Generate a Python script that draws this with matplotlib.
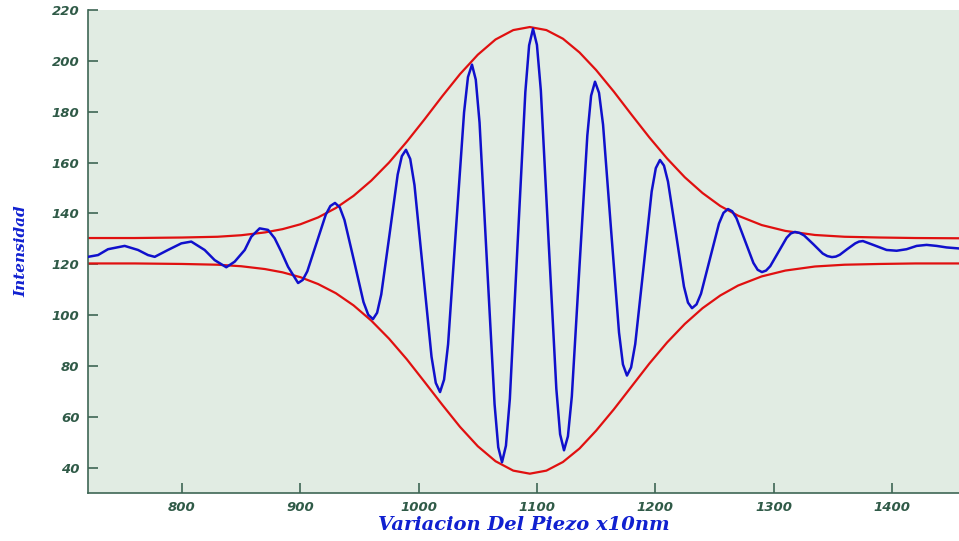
import numpy as np
import matplotlib
matplotlib.use('Agg')
import matplotlib.pyplot as plt

# interferogram
sig_x = [720.5, 729.0, 737.4, 751.5, 762.8, 771.2, 776.9, 788.1, 799.4, 807.8, 819.1, 827.6, 837.4, 844.5,
         853.0, 858.5, 865.6, 872.7, 878.3, 883.9, 889.6,
         898.1, 902.0, 905.9, 913.7, 921.5, 925.4, 929.3, 933.3, 937.3, 945.4, 953.4, 957.4,
         961.4, 964.9, 968.4, 975.4, 982.3, 985.8, 989.3, 992.9, 996.5, 1003.7, 1010.9, 1014.5,
         1018.1, 1021.5, 1024.9, 1031.6, 1038.4, 1041.7, 1045.1, 1048.3, 1051.5, 1057.8, 1064.2, 1067.3,
         1070.5, 1073.8, 1077.1, 1083.6, 1090.2, 1093.4, 1096.7, 1100.0, 1103.3, 1109.8, 1116.4, 1119.6,
         1122.9, 1126.2, 1129.5, 1136.0, 1142.6, 1145.8, 1149.1, 1152.5, 1155.9, 1162.6, 1169.4, 1172.7,
         1176.1, 1179.6, 1183.1, 1190.1, 1197.0, 1200.5, 1204.0, 1207.4, 1210.8, 1217.6, 1224.3, 1227.7,
         1231.1, 1234.9, 1238.7, 1246.3, 1253.9, 1257.7, 1261.5, 1265.1, 1268.7, 1275.9, 1283.0, 1286.6,
         1290.2, 1293.7, 1297.2, 1304.2, 1311.1, 1314.6, 1318.1, 1322.0, 1325.9, 1333.8, 1341.6, 1345.5,
         1349.4, 1352.7, 1356.0, 1362.5, 1369.1, 1372.3, 1375.6,
         1384.3, 1395.6, 1404.1, 1412.5, 1421.0, 1429.4, 1437.9, 1446.3, 1456.7]
sig_y = [122.9, 123.6, 125.9, 127.2, 125.6, 123.6, 122.9, 125.6, 128.2, 128.9, 125.6, 121.6, 118.8, 121.0,
         125.6, 130.8, 134.1, 133.5, 130.2, 124.9, 119.0,
         112.6, 113.8, 117.2, 128.4, 139.5, 142.9, 144.1, 142.4, 137.4, 121.3, 105.1, 100.1,
         98.4, 100.9, 108.1, 131.7, 155.3, 162.5, 165.0, 161.4, 151.1, 117.4, 83.6, 73.3,
         69.7, 74.6, 88.5, 134.1, 179.7, 193.6, 198.5, 192.6, 175.7, 120.3, 64.9, 48.0,
         42.1, 48.6, 67.0, 127.4, 187.7, 206.1, 212.6, 206.3, 188.4, 129.7, 71.0, 53.1,
         46.8, 52.3, 68.0, 119.3, 170.6, 186.3, 191.8, 187.4, 174.9, 134.0, 93.1, 80.6,
         76.2, 79.4, 88.6, 118.6, 148.6, 157.8, 161.0, 158.8, 152.5, 131.9, 111.2, 104.9,
         102.7, 104.2, 108.4, 122.2, 136.0, 140.2, 141.7, 140.8, 138.1, 129.3, 120.5, 117.8,
         116.9, 117.5, 119.2, 124.8, 130.4, 132.1, 132.7, 132.3, 131.3, 127.8, 124.2, 123.2,
         122.8, 123.0, 123.7, 126.0, 128.2, 128.9, 129.1,
         127.6, 125.6, 125.3, 125.9, 127.2, 127.6, 127.2, 126.6, 126.2]

# envelopes
env_x = [720, 760, 800, 830, 850, 870, 885, 900, 915, 930, 945, 960, 975, 990, 1005, 1020, 1035, 1050,
         1065, 1080, 1094, 1108, 1122, 1136, 1150, 1165, 1180, 1195, 1210, 1225, 1240, 1255, 1270,
         1290, 1310, 1335, 1360, 1390, 1420, 1457]
up_y = [130.3, 130.3, 130.5, 130.8, 131.4, 132.5, 133.8, 135.7, 138.4, 142.1, 146.9, 152.9, 160.0,
        168.2, 177.0, 186.1, 194.8, 202.4, 208.4, 212.1, 213.3, 212.1, 208.7, 203.3, 196.4, 187.9,
        178.8, 169.9, 161.6, 154.2, 148.0, 142.9, 139.1, 135.4, 133.1, 131.5, 130.8, 130.5, 130.3, 130.2]
lo_y = [120.3, 120.3, 120.1, 119.8, 119.2, 118.1, 116.8, 114.9, 112.2, 108.6, 103.8, 97.8, 90.7,
        82.6, 73.7, 64.7, 56.0, 48.4, 42.5, 38.8, 37.6, 38.8, 42.2, 47.5, 54.5, 62.9,
        71.9, 80.9, 89.2, 96.5, 102.7, 107.7, 111.6, 115.2, 117.5, 119.1, 119.8, 120.1, 120.3, 120.3]

xticks = [800, 900, 1000, 1100, 1200, 1300, 1400]
yticks = [40, 60, 80, 100, 120, 140, 160, 180, 200, 220]

BG = '#e1ece3'; AX = '#3e6655'; LBL = '#2f5a47'; BLUE = '#1010cc'; RED = '#e01010'

fig = plt.figure(figsize=(9.59, 5.41), dpi=100)
ax = fig.add_axes([88/959, 1-493/541, 1-88/959, (493-10)/541])
ax.set_facecolor(BG)
ax.plot(env_x, up_y, color=RED, lw=1.6, zorder=2)
ax.plot(env_x, lo_y, color=RED, lw=1.6, zorder=2)
ax.plot(sig_x, sig_y, color=BLUE, lw=1.8, zorder=3)
ax.set_xlim(720.5, 1456.8); ax.set_ylim(30, 220)
ax.set_xticks(xticks); ax.set_yticks(yticks)
for s in ['top', 'right']: ax.spines[s].set_visible(False)
for s in ['left', 'bottom']: ax.spines[s].set_color(AX); ax.spines[s].set_linewidth(1.2)
ax.tick_params(direction='in', length=7, width=1.2, color=AX, labelcolor=LBL, pad=6)
for t in ax.get_xticklabels() + ax.get_yticklabels():
    t.set_fontweight('heavy'); t.set_fontstyle('italic'); t.set_fontsize(9.5)
ax.set_xlabel('Variacion Del Piezo x10nm', color='#1020d0', fontsize=14, fontweight='bold',
              fontstyle='italic', family='DejaVu Serif', labelpad=1)
ax.set_ylabel('Intensidad', color='#1020d0', fontsize=11, fontweight='bold',
              fontstyle='italic', family='DejaVu Serif', labelpad=17)
fig.savefig('out.png', dpi=100, facecolor='white')
